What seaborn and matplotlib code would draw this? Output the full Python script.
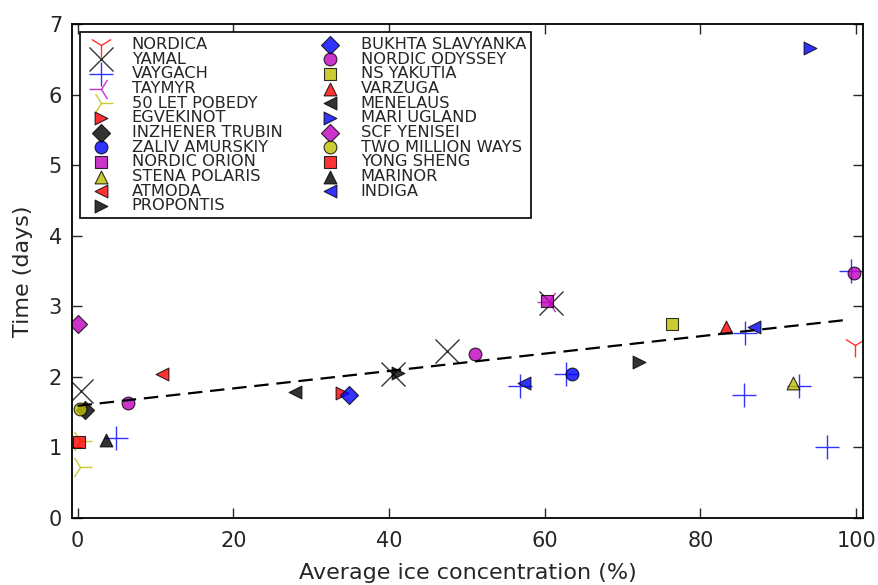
import numpy as np
import matplotlib
matplotlib.use("Agg")
import matplotlib.pyplot as plt
import seaborn as sns

# ships in legend order, with marker / colour
ships = ["NORDICA", "YAMAL", "VAYGACH", "TAYMYR", "50 LET POBEDY", "EGVEKINOT",
         "INZHENER TRUBIN", "ZALIV AMURSKIY", "NORDIC ORION", "STENA POLARIS",
         "ATMODA", "PROPONTIS", "BUKHTA SLAVYANKA", "NORDIC ODYSSEY", "NS YAKUTIA",
         "VARZUGA", "MENELAUS", "MARI UGLAND", "SCF YENISEI", "TWO MILLION WAYS",
         "YONG SHENG", "MARINOR", "INDIGA"]
markers = ["1", "x", "+", "3", "4", ">", "D", "o", "s", "^", "<", ">",
           "D", "o", "s", "^", "<", ">", "D", "o", "s", "^", "<"]
colors = ["r", "k", "b", "m", "y"] * 5

# average ice concentration (%) and time (days) per ship
ice = {
    "NORDICA": [99.8],
    "YAMAL": [0.4, 40.5, 47.5, 60.8],
    "VAYGACH": [5.0, 56.8, 62.7, 85.7, 85.6, 92.6, 96.3, 99.4],
    "TAYMYR": [60.6],
    "50 LET POBEDY": [0.35, 0.35],
    "EGVEKINOT": [33.9],
    "INZHENER TRUBIN": [1.0],
    "ZALIV AMURSKIY": [63.5],
    "NORDIC ORION": [60.3],
    "STENA POLARIS": [91.9],
    "ATMODA": [10.9],
    "PROPONTIS": [41.2, 72.1],
    "BUKHTA SLAVYANKA": [34.9],
    "NORDIC ODYSSEY": [6.5, 51.0, 99.7],
    "NS YAKUTIA": [76.3],
    "VARZUGA": [83.3],
    "MENELAUS": [27.9],
    "MARI UGLAND": [94.1],
    "SCF YENISEI": [0.1],
    "TWO MILLION WAYS": [0.35],
    "YONG SHENG": [0.2],
    "MARINOR": [3.7],
    "INDIGA": [57.3, 86.9],
}
days = {
    "NORDICA": [2.45],
    "YAMAL": [1.80, 2.04, 2.37, 3.05],
    "VAYGACH": [1.13, 1.87, 2.04, 2.62, 1.75, 1.87, 1.00, 3.50],
    "TAYMYR": [3.06],
    "50 LET POBEDY": [0.72, 1.09],
    "EGVEKINOT": [1.77],
    "INZHENER TRUBIN": [1.53],
    "ZALIV AMURSKIY": [2.04],
    "NORDIC ORION": [3.08],
    "STENA POLARIS": [1.91],
    "ATMODA": [2.04],
    "PROPONTIS": [2.05, 2.21],
    "BUKHTA SLAVYANKA": [1.74],
    "NORDIC ODYSSEY": [1.63, 2.33, 3.47],
    "NS YAKUTIA": [2.75],
    "VARZUGA": [2.70],
    "MENELAUS": [1.79],
    "MARI UGLAND": [6.66],
    "SCF YENISEI": [2.75],
    "TWO MILLION WAYS": [1.54],
    "YONG SHENG": [1.08],
    "MARINOR": [1.11],
    "INDIGA": [1.91, 2.71],
}

# trend line end points
fit_x = [0, 99]
fit_y = [1.59, 2.81]

sns.set_style("ticks", {"xtick.direction": "in", "ytick.direction": "in",
                        "axes.edgecolor": "black"})
plt.rcParams["font.family"] = ["DejaVu Sans"]

fig, ax = plt.subplots(figsize=(8.79, 5.85), dpi=100)
fig.subplots_adjust(left=0.0816, right=0.982, top=0.959, bottom=0.1145)

for name, m, c in zip(ships, markers, colors):
    filled = m not in ["1", "x", "+", "3", "4"]
    if filled:
        sns.scatterplot(x=ice[name], y=days[name], marker=m, color=c, s=85,
                        alpha=0.8, edgecolor="k", linewidth=0.8, label=name, ax=ax)
    else:
        sns.scatterplot(x=ice[name], y=days[name], marker=m, color=c, s=300,
                        alpha=0.8, linewidth=1.0, label=name, ax=ax)

sns.lineplot(x=fit_x, y=fit_y, color="k", linewidth=1.6,
             linestyle=(0, (6.5, 3.5)), ax=ax)

ax.set_xlim(-0.75, 100.9)
ax.set_ylim(0, 7)
ax.set_xticks([0, 20, 40, 60, 80, 100])
ax.set_yticks(range(8))
ax.tick_params(top=True, right=True, length=7, width=1, labelsize=15)
ax.tick_params(axis="x", pad=9)
ax.tick_params(axis="y", pad=7)
for sp in ax.spines.values():
    sp.set_linewidth(1.3)
ax.set_xlabel("Average ice concentration (%)", fontsize=16, labelpad=9)
ax.set_ylabel("Time (days)", fontsize=16, labelpad=11)

leg = ax.legend(loc="upper left", ncol=2, fontsize=11.7, labelspacing=-0.02,
                handletextpad=0.9, columnspacing=1.9, borderpad=0.3,
                fancybox=False, framealpha=1, edgecolor="k")
leg.get_frame().set_linewidth(1.2)

fig.savefig("out.png", dpi=100)
